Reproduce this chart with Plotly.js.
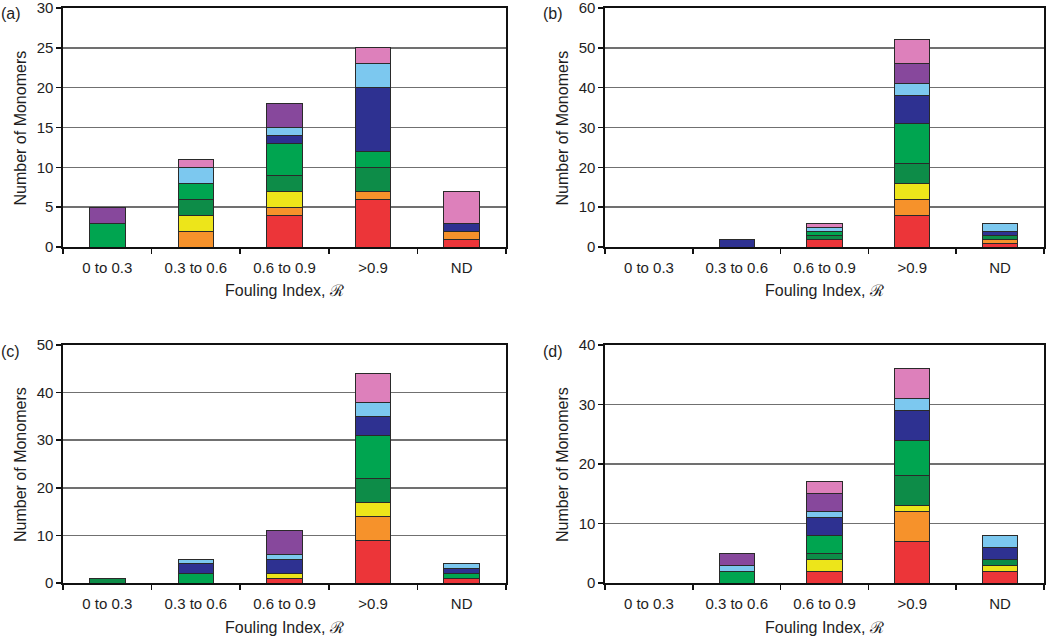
<!DOCTYPE html>
<html>
<head>
<meta charset="utf-8">
<script src="https://cdn.plot.ly/plotly-3.0.1.min.js"></script>
<style>html,body{margin:0;padding:0;background:#fff;}#chart{width:1050px;height:636px;}</style>
</head>
<body>
<div id="chart"></div>
<script>
const categories = ["0 to 0.3", "0.3 to 0.6", "0.6 to 0.9", ">0.9", "ND"];
const panelLabels = ["(a)", "(b)", "(c)", "(d)"];
const yTitle = "Number of Monomers";
const xTitle = "Fouling Index, \u211B";
const seriesNames = ["red", "orange", "yellow", "darkgreen", "green", "navy", "lightblue", "purple", "pink"];
const seriesColors = ["#ec3539", "#f6922b", "#ede51a", "#0d8c48", "#00a550", "#2e3191", "#7cc8ef", "#87489c", "#dd80bb"];

// Panel (a)
const redA       = [0, 0, 4, 6, 1];
const orangeA    = [0, 2, 1, 1, 1];
const yellowA    = [0, 2, 2, 0, 0];
const darkgreenA = [0, 2, 2, 3, 0];
const greenA     = [3, 2, 4, 2, 0];
const navyA      = [0, 0, 1, 8, 1];
const lightblueA = [0, 2, 1, 3, 0];
const purpleA    = [2, 0, 3, 0, 0];
const pinkA      = [0, 1, 0, 2, 4];
// Panel (b)
const redB       = [0, 0, 2, 8, 1];
const orangeB    = [0, 0, 0, 4, 1];
const yellowB    = [0, 0, 0, 4, 0];
const darkgreenB = [0, 0, 1, 5, 1];
const greenB     = [0, 0, 1, 10, 0];
const navyB      = [0, 2, 0, 7, 1];
const lightblueB = [0, 0, 1, 3, 2];
const purpleB    = [0, 0, 0, 5, 0];
const pinkB      = [0, 0, 1, 6, 0];
// Panel (c)
const redC       = [0, 0, 1, 9, 1];
const orangeC    = [0, 0, 0, 5, 0];
const yellowC    = [0, 0, 1, 3, 0];
const darkgreenC = [1, 0, 0, 5, 0];
const greenC     = [0, 2, 0, 9, 1];
const navyC      = [0, 2, 3, 4, 1];
const lightblueC = [0, 1, 1, 3, 1];
const purpleC    = [0, 0, 5, 0, 0];
const pinkC      = [0, 0, 0, 6, 0];
// Panel (d)
const redD       = [0, 0, 2, 7, 2];
const orangeD    = [0, 0, 0, 5, 0];
const yellowD    = [0, 0, 2, 1, 1];
const darkgreenD = [0, 0, 1, 5, 1];
const greenD     = [0, 2, 3, 6, 0];
const navyD      = [0, 0, 3, 5, 2];
const lightblueD = [0, 1, 1, 2, 2];
const purpleD    = [0, 2, 3, 0, 0];
const pinkD      = [0, 0, 2, 5, 0];

const yMax = [30, 60, 50, 40];
const yStep = [5, 10, 10, 10];

const panels = [
  [redA, orangeA, yellowA, darkgreenA, greenA, navyA, lightblueA, purpleA, pinkA],
  [redB, orangeB, yellowB, darkgreenB, greenB, navyB, lightblueB, purpleB, pinkB],
  [redC, orangeC, yellowC, darkgreenC, greenC, navyC, lightblueC, purpleC, pinkC],
  [redD, orangeD, yellowD, darkgreenD, greenD, navyD, lightblueD, purpleD, pinkD]
];

const W = 1050, H = 636;
const xDom = [[63 / W, 506 / W], [605 / W, 1044 / W]];
const yDom = [[1 - 247 / H, 1 - 8 / H], [1 - 583 / H, 1 - 345 / H]];

const font = "Liberation Sans, Arial, sans-serif";
const txt = "#1e1e1e";
const traces = [];
const layout = {
  width: W, height: H,
  margin: {l: 0, r: 0, t: 0, b: 0},
  paper_bgcolor: "#fff", plot_bgcolor: "#fff",
  barmode: "stack", bargap: 0.6,
  showlegend: false,
  font: {family: font, size: 15, color: txt},
  annotations: []
};

panels.forEach((series, p) => {
  const col = p % 2, row = Math.floor(p / 2);
  const n = p + 1;
  const xa = n === 1 ? "x" : "x" + n;
  const ya = n === 1 ? "y" : "y" + n;
  series.forEach((vals, s) => {
    traces.push({
      type: "bar", x: categories, y: vals.map(v => v === 0 ? null : v),
      xaxis: xa, yaxis: ya, name: seriesNames[s],
      marker: {color: seriesColors[s], line: {color: "#2a2a2a", width: 1}},
      hoverinfo: "skip"
    });
  });
  layout["xaxis" + (n === 1 ? "" : n)] = {
    domain: xDom[col], anchor: ya,
    type: "category", showgrid: false, zeroline: false,
    showline: true, linecolor: "#111", linewidth: 1.6, mirror: true,
    ticks: "outside", tickson: "boundaries", ticklen: 5, tickcolor: "#111", tickwidth: 1.5,
    ticklabelstandoff: 6, ticklabeloverflow: "allow",
    tickfont: {family: font, size: 15, color: txt}, fixedrange: true
  };
  layout["yaxis" + (n === 1 ? "" : n)] = {
    domain: yDom[row], anchor: xa,
    range: [0, yMax[p]], dtick: yStep[p], tick0: 0,
    showgrid: true, gridcolor: "#707070", gridwidth: 1.5, zeroline: false,
    showline: true, linecolor: "#111", linewidth: 1.6, mirror: true,
    ticks: "outside", ticklen: 5, tickcolor: "#111", tickwidth: 1.5,
    ticklabeloverflow: "allow",
    tickfont: {family: font, size: 15, color: txt}, fixedrange: true
  };
  const x0 = xDom[col][0], x1 = xDom[col][1];
  const yb = yDom[row][0], yt = yDom[row][1];
  layout.annotations.push({
    xref: "paper", yref: "paper", x: (x0 + x1) / 2, y: yb - 44 / H,
    text: xTitle, showarrow: false, xanchor: "center", yanchor: "middle",
    font: {family: font, size: 16, color: txt}
  });
  layout.annotations.push({
    xref: "paper", yref: "paper", x: x0 - 43 / W, y: (yb + yt) / 2,
    text: yTitle, showarrow: false, textangle: -90, xanchor: "center", yanchor: "middle",
    font: {family: font, size: 16, color: txt}
  });
  layout.annotations.push({
    xref: "paper", yref: "paper", x: x0 - 64 / W, y: yt - 6 / H,
    text: panelLabels[p], showarrow: false, xanchor: "left", yanchor: "middle",
    font: {family: font, size: 16, color: txt}
  });
});

Plotly.newPlot("chart", traces, layout, {staticPlot: true, displayModeBar: false});
</script>
</body>
</html>
